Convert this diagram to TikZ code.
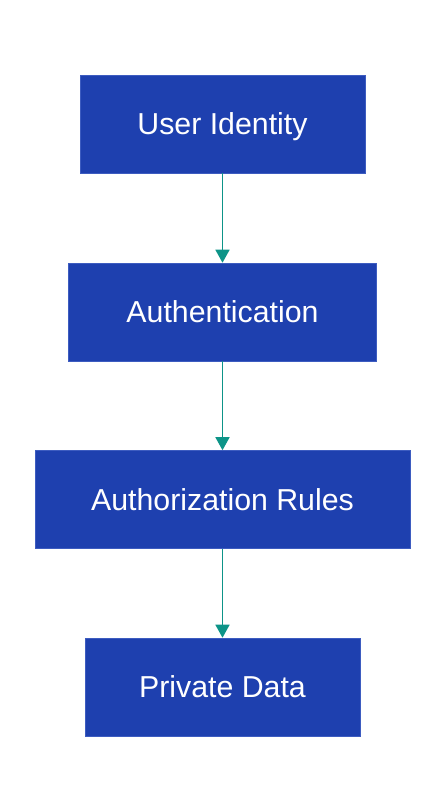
\documentclass[tikz,border=0pt]{standalone}
\usepackage{fontspec}
\setmainfont{Liberation Sans}
\usetikzlibrary{arrows.meta}
\definecolor{boxblue}{HTML}{1E40AF}
\definecolor{boxedge}{HTML}{3D5CC0}
\definecolor{teal}{HTML}{0D9488}
\begin{document}
\begin{tikzpicture}[x=1pt,y=-1pt,
  stepbox/.style={draw=boxedge,line width=0.6pt,fill=boxblue,text=white,minimum height=98pt,inner sep=0pt,text height=21pt,text depth=0pt,font=\fontsize{30.3}{34}\selectfont},
  conn/.style={draw=teal,line width=1.5pt,-{Triangle[length=13pt,width=14pt]}}]
\useasboundingbox (0,0) rectangle (446,812);
\node[stepbox,minimum width=285pt] (a) at (222.5,124) {User Identity};
\node[stepbox,minimum width=308pt] (b) at (222.5,312) {Authentication};
\node[stepbox,minimum width=375pt] (c) at (222.5,499.5) {Authorization Rules};
\node[stepbox,minimum width=275pt] (d) at (222.5,687) {Private Data};
\draw[conn] (a) -- (b);
\draw[conn] (b) -- (c);
\draw[conn] (c) -- (d);
\end{tikzpicture}
\end{document}
